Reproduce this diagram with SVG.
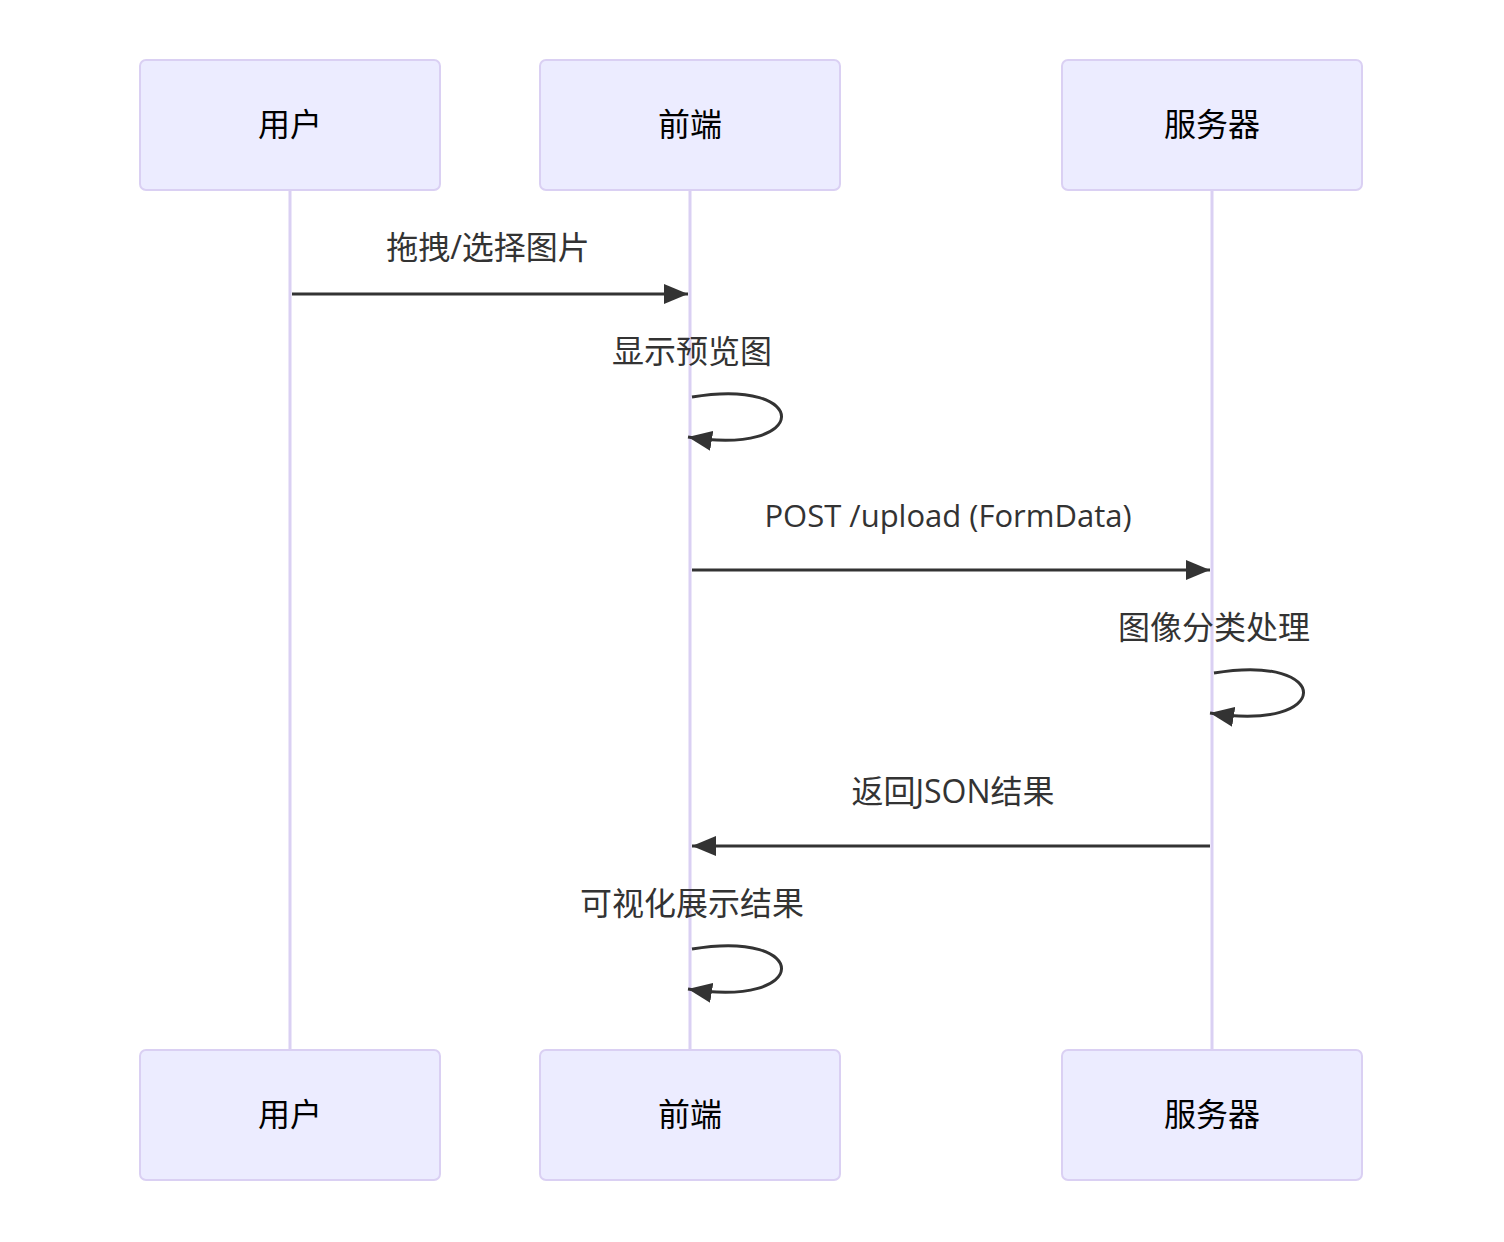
<svg xmlns="http://www.w3.org/2000/svg" width="1504" height="1242" viewBox="0 0 1504 1242">
<style>
.actor{fill:#ECECFF;stroke:#DAD0F3;stroke-width:2}
.aname{font-family:"Open Sans","Noto Sans CJK SC",sans-serif;font-size:32px;fill:#000;text-anchor:middle;dominant-baseline:central}
.life{stroke:#DAD0F3;stroke-width:3}
.msg{stroke:#333;stroke-width:3;fill:none}
.mtext{font-family:"Open Sans","Noto Sans CJK SC",sans-serif;font-size:32px;fill:#333;text-anchor:middle;dominant-baseline:central}
.lat{font-size:31px}
</style>
<defs>
<marker id="ah2" viewBox="0 0 24 20" refX="24" refY="10" markerWidth="24" markerHeight="20" markerUnits="userSpaceOnUse" orient="auto">
<path d="M0,0 L24,10 L0,20 z" fill="#333"/>
</marker>
</defs>
<g id="lifelines">
<line class="life" x1="290" y1="190" x2="290" y2="1050"/>
<line class="life" x1="690" y1="190" x2="690" y2="1050"/>
<line class="life" x1="1212" y1="190" x2="1212" y2="1050"/>
</g>
<g id="actor-user-top"><rect class="actor" x="140" y="60" width="300" height="130" rx="6"/><text class="aname" x="290" y="123">用户</text></g>
<g id="actor-fe-top"><rect class="actor" x="540" y="60" width="300" height="130" rx="6"/><text class="aname" x="690" y="123">前端</text></g>
<g id="actor-srv-top"><rect class="actor" x="1062" y="60" width="300" height="130" rx="6"/><text class="aname" x="1212" y="123">服务器</text></g>
<g id="actor-user-bottom"><rect class="actor" x="140" y="1050" width="300" height="130" rx="6"/><text class="aname" x="290" y="1113">用户</text></g>
<g id="actor-fe-bottom"><rect class="actor" x="540" y="1050" width="300" height="130" rx="6"/><text class="aname" x="690" y="1113">前端</text></g>
<g id="actor-srv-bottom"><rect class="actor" x="1062" y="1050" width="300" height="130" rx="6"/><text class="aname" x="1212" y="1113">服务器</text></g>
<g id="connectors">
<text class="mtext" x="488" y="246">拖拽/选择图片</text>
<line class="msg" x1="292" y1="294" x2="688" y2="294" marker-end="url(#ah2)"/>
<text class="mtext" x="692" y="350">显示预览图</text>
<path class="msg" d="M692,397 C812,377 812,457 688,437" marker-end="url(#ah2)"/>
<text class="mtext lat" x="948" y="515">POST /upload (FormData)</text>
<line class="msg" x1="692" y1="570" x2="1210" y2="570" marker-end="url(#ah2)"/>
<text class="mtext" x="1214" y="626">图像分类处理</text>
<path class="msg" d="M1214,673 C1334,653 1334,733 1210,713" marker-end="url(#ah2)"/>
<text class="mtext" x="953" y="790">返回JSON结果</text>
<line class="msg" x1="1210" y1="846" x2="692" y2="846" marker-end="url(#ah2)"/>
<text class="mtext" x="692" y="902">可视化展示结果</text>
<path class="msg" d="M692,949 C812,929 812,1009 688,989" marker-end="url(#ah2)"/>
</g>
</svg>
